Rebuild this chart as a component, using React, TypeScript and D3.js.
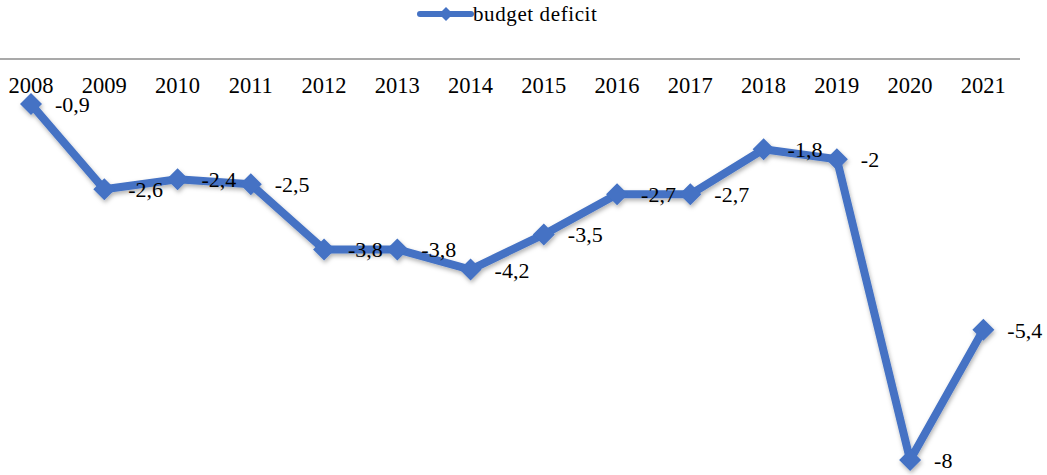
import React from "react";
import * as d3 from "d3";

const years = ["2008","2009","2010","2011","2012","2013","2014","2015","2016","2017","2018","2019","2020","2021"];
const deficit = [-0.9, -2.6, -2.4, -2.5, -3.8, -3.8, -4.2, -3.5, -2.7, -2.7, -1.8, -2, -8, -5.4];
const seriesName = "budget deficit";

const W = 1047, H = 475;
const COLOR = "#4472C4";
const FONT = "'Liberation Serif', 'Times New Roman', serif";

export default function App() {
  const x = d3.scaleBand<string>().domain(years).range([-5.6, 1020]);
  const y = d3.scaleLinear().domain([0, -8]).range([59, 460]);
  const cx = (d: string) => (x(d) as number) + x.bandwidth() / 2;
  const line = d3.line<number>().x((_, i) => cx(years[i])).y((v) => y(v));
  const fmt = (v: number) => String(v).replace(".", ",");
  const diamond = (px: number, py: number, r: number) =>
    `M${px},${py - r}L${px + r},${py}L${px},${py + r}L${px - r},${py}Z`;

  return (
    <svg width={W} height={H} style={{ position: "absolute", left: 0, top: 0, background: "#fff" }} fontFamily={FONT}>
      <defs>
        <filter id="sh" x="-20%" y="-20%" width="140%" height="160%">
          <feDropShadow dx="1" dy="2.5" stdDeviation="2" floodColor="#000" floodOpacity="0.3" />
        </filter>
      </defs>
      {/* legend */}
      <g>
        <line x1={420} x2={471} y1={14} y2={14} stroke={COLOR} strokeWidth={6} strokeLinecap="round" />
        <path d={diamond(446, 14, 7)} fill={COLOR} />
        <text x={473} y={21} fontSize={21} letterSpacing={0.6} fill="#000">{seriesName}</text>
      </g>
      {/* axis line */}
      <line x1={0} x2={1020} y1={y(0)} y2={y(0)} stroke="#8c8c8c" strokeWidth={1.5} />
      {years.map((yr) => (
        <text key={yr} x={cx(yr)} y={93} textAnchor="middle" fontSize={22.5} fill="#000">{yr}</text>
      ))}
      <g filter="url(#sh)">
        <path d={line(deficit) as string} fill="none" stroke={COLOR} strokeWidth={8} strokeLinejoin="round" />
        {deficit.map((v, i) => (
          <path key={i} d={diamond(cx(years[i]), y(v), 11)} fill={COLOR} />
        ))}
      </g>
      {deficit.map((v, i) => (
        <text key={i} x={cx(years[i]) + 24} y={y(v) + 8} fontSize={22} fill="#000">{fmt(v)}</text>
      ))}
    </svg>
  );
}
